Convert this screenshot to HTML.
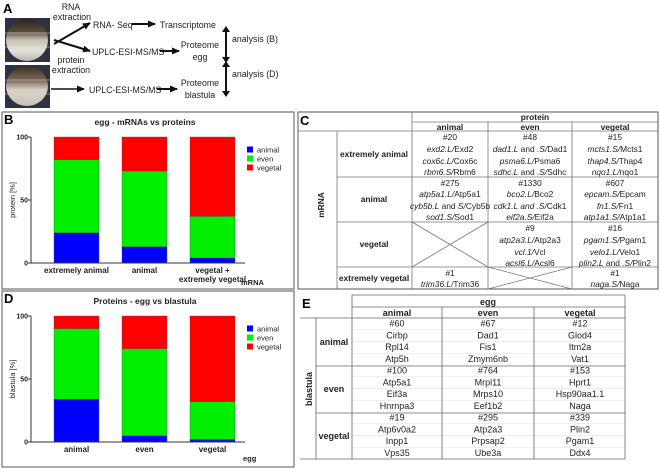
<!DOCTYPE html>
<html><head><meta charset="utf-8"><style>
html,body{margin:0;padding:0;background:#fff;}
svg{display:block;font-family:"Liberation Sans",Arial,sans-serif;}
.b{font-weight:bold}
.t{fill:#222}
.i{font-style:italic}
</style></head><body>
<svg id="fig" width="660" height="470" viewBox="0 0 660 470" xmlns="http://www.w3.org/2000/svg">
<defs>
<linearGradient id="eggG" x1="0" y1="0" x2="0" y2="1"><stop offset="0" stop-color="#2a241e"/><stop offset="0.3" stop-color="#5a4a3a"/><stop offset="0.5" stop-color="#c8c0b4"/><stop offset="0.75" stop-color="#e4e2dc"/><stop offset="1" stop-color="#b9b6ae"/></linearGradient>
<linearGradient id="blaG" x1="0" y1="0" x2="0" y2="1"><stop offset="0" stop-color="#3c2e24"/><stop offset="0.35" stop-color="#7a6656"/><stop offset="0.6" stop-color="#d8d2c6"/><stop offset="1" stop-color="#c9c4ba"/></linearGradient>
<marker id="ah" markerUnits="userSpaceOnUse" markerWidth="8" markerHeight="8" refX="7" refY="4" orient="auto"><path d="M0,0.5 L8,4 L0,7.5 z" fill="#111"/></marker>
</defs>

<!-- Panel A -->
<g font-size="8.8" fill="#222">
<text x="3" y="13" class="b" font-size="13" fill="#000">A</text>
<rect x="5" y="18" width="45" height="44" fill="#2c3444"/>
<ellipse cx="27" cy="40" rx="21" ry="21" fill="url(#eggG)"/>
<line x1="5" y1="33" x2="50" y2="33" stroke="#ddd" stroke-width="0.6"/><line x1="5" y1="47" x2="50" y2="47" stroke="#ddd" stroke-width="0.6"/>
<rect x="5" y="65" width="45" height="43" fill="#2c3444"/>
<ellipse cx="27" cy="86" rx="21" ry="20" fill="url(#blaG)"/>
<line x1="5" y1="80" x2="50" y2="80" stroke="#ddd" stroke-width="0.6"/><line x1="5" y1="94" x2="50" y2="94" stroke="#ddd" stroke-width="0.6"/>
<text x="71" y="10" text-anchor="middle">RNA</text>
<text x="72" y="20" text-anchor="middle">extraction</text>
<text x="71" y="63" text-anchor="middle">protein</text>
<text x="71" y="73" text-anchor="middle">extraction</text>
<line x1="54" y1="44" x2="90" y2="23" stroke="#111" stroke-width="2" marker-end="url(#ah)"/>
<line x1="54" y1="40" x2="90" y2="51" stroke="#111" stroke-width="2" marker-end="url(#ah)"/>
<text x="93" y="28">RNA- Seq</text>
<line x1="132" y1="24" x2="155" y2="24" stroke="#111" stroke-width="2" marker-end="url(#ah)"/>
<text x="160" y="28">Transcriptome</text>
<text x="92" y="55">UPLC-ESI-MS/MS</text>
<line x1="160" y1="51" x2="179" y2="51" stroke="#111" stroke-width="2" marker-end="url(#ah)"/>
<text x="200" y="48" text-anchor="middle">Proteome</text>
<text x="200" y="60" text-anchor="middle">egg</text>
<line x1="51" y1="89" x2="84" y2="89" stroke="#111" stroke-width="1.5" marker-end="url(#ah)"/>
<text x="89" y="93">UPLC-ESI-MS/MS</text>
<line x1="157" y1="89" x2="177" y2="89" stroke="#111" stroke-width="2" marker-end="url(#ah)"/>
<text x="200" y="86" text-anchor="middle">Proteome</text>
<text x="200" y="98" text-anchor="middle">blastula</text>
<line x1="226" y1="31" x2="226" y2="58" stroke="#111" stroke-width="2"/>
<path d="M222,32 L226,26 L230,32 z M222,57 L226,63 L230,57 z" fill="#111"/>
<text x="232" y="42">analysis (B)</text>
<line x1="226" y1="66" x2="226" y2="92" stroke="#111" stroke-width="2"/>
<path d="M222,67 L226,61 L230,67 z M222,91 L226,97 L230,91 z" fill="#111"/>
<text x="232" y="77">analysis (D)</text>
</g>

<!-- Panel boxes -->
<rect x="2" y="112" width="292" height="177" fill="none" stroke="#555" stroke-width="1"/>
<rect x="2" y="291" width="292" height="176" fill="none" stroke="#555" stroke-width="1"/>
<rect x="298" y="112" width="360" height="177" fill="none" stroke="#555" stroke-width="1"/>

<g id="chartB"></g>
<g id="chartD"></g>

<!-- Panel C table -->
<g class="t" font-size="8.4" fill="#222">
<text x="300" y="125" class="b" font-size="13" fill="#000">C</text>
<g stroke="#777" stroke-width="0.8">
<line x1="412" y1="122" x2="658" y2="122"/>
<line x1="298" y1="131" x2="658" y2="131"/>
<line x1="337" y1="177" x2="658" y2="177"/>
<line x1="337" y1="222" x2="658" y2="222"/>
<line x1="337" y1="267" x2="658" y2="267"/>
<line x1="337" y1="131" x2="337" y2="289"/>
<line x1="412" y1="112" x2="412" y2="289"/>
<line x1="488" y1="122" x2="488" y2="289"/>
<line x1="572" y1="122" x2="572" y2="289"/>
<line x1="412" y1="222" x2="488" y2="267"/><line x1="412" y1="267" x2="488" y2="222"/>
<line x1="488" y1="267" x2="572" y2="289"/><line x1="488" y1="289" x2="572" y2="267"/>
</g>
<g text-anchor="middle" font-size="8.4">
<text x="535" y="120" class="b">protein</text>
<text x="450" y="130" class="b">animal</text><text x="530" y="130" class="b">even</text><text x="615" y="130" class="b">vegetal</text>
<text transform="translate(324,205) rotate(-90)" class="b">mRNA</text>
<text x="374" y="157" class="b">extremely animal</text>
<text x="374" y="202" class="b">animal</text>
<text x="374" y="247" class="b">vegetal</text>
<text x="374" y="281" class="b">extremely vegetal</text>
<text x="450" y="140">#20</text>
<text x="450" y="152"><tspan class="i">exd2.L/</tspan>Exd2</text>
<text x="450" y="164"><tspan class="i">cox6c.L/</tspan>Cox6c</text>
<text x="450" y="175"><tspan class="i">rbm6.S/</tspan>Rbm6</text>
<text x="530" y="140">#48</text>
<text x="530" y="152"><tspan class="i">dad1.L</tspan> and <tspan class="i">.S/</tspan>Dad1</text>
<text x="530" y="164"><tspan class="i">psma6.L/</tspan>Psma6</text>
<text x="530" y="175"><tspan class="i">sdhc.L</tspan> and <tspan class="i">.S/</tspan>Sdhc</text>
<text x="615" y="140">#15</text>
<text x="615" y="152"><tspan class="i">mcts1.S/</tspan>Mcts1</text>
<text x="615" y="164"><tspan class="i">thap4.S/</tspan>Thap4</text>
<text x="615" y="175"><tspan class="i">nqo1.L/</tspan>nqo1</text>
<text x="450" y="186">#275</text>
<text x="450" y="197"><tspan class="i">atp5a1.L/</tspan>Atp5a1</text>
<text x="450" y="209"><tspan class="i">cyb5b.L</tspan> and <tspan class="i">S/</tspan>Cyb5b</text>
<text x="450" y="220"><tspan class="i">sod1.S/</tspan>Sod1</text>
<text x="530" y="186">#1330</text>
<text x="530" y="197"><tspan class="i">bco2.L/</tspan>Bco2</text>
<text x="530" y="209"><tspan class="i">cdk1.L and .S/</tspan>Cdk1</text>
<text x="530" y="220"><tspan class="i">eif2a.S/</tspan>Eif2a</text>
<text x="615" y="186">#607</text>
<text x="615" y="197"><tspan class="i">epcam.S/</tspan>Epcam</text>
<text x="615" y="209"><tspan class="i">fn1.S/</tspan>Fn1</text>
<text x="615" y="220"><tspan class="i">atp1a1.S/</tspan>Atp1a1</text>
<text x="530" y="231">#9</text>
<text x="530" y="243"><tspan class="i">atp2a3.L/</tspan>Atp2a3</text>
<text x="530" y="255"><tspan class="i">vcl.1/</tspan>Vcl</text>
<text x="530" y="266"><tspan class="i">acsl6.L/</tspan>Acsl6</text>
<text x="615" y="231">#16</text>
<text x="615" y="243"><tspan class="i">pgam1.S/</tspan>Pgam1</text>
<text x="615" y="255"><tspan class="i">velo1.L/</tspan>Velo1</text>
<text x="615" y="266"><tspan class="i">plin2.L</tspan> and <tspan class="i">.S/</tspan>Plin2</text>
<text x="450" y="276">#1</text>
<text x="450" y="287"><tspan class="i">trim36.L/</tspan>Trim36</text>
<text x="615" y="276">#1</text>
<text x="615" y="287"><tspan class="i">naga.S/</tspan>Naga</text>
</g>
</g>

<!-- Panel E table -->
<g class="t" font-size="9" fill="#222">
<text x="302" y="308" class="b" font-size="13" fill="#000">E</text>
<g stroke="#ddd" stroke-width="0.6" id="eFaint"></g>
<g stroke="#666" stroke-width="0.8">
<line x1="352" y1="295" x2="625" y2="295"/>
<line x1="352" y1="307" x2="625" y2="307"/>
<line x1="300" y1="318" x2="625" y2="318"/>
<line x1="316" y1="366" x2="625" y2="366"/>
<line x1="316" y1="413" x2="625" y2="413"/>
<line x1="300" y1="459" x2="625" y2="459"/>
<line x1="316" y1="318" x2="316" y2="459"/>
<line x1="352" y1="295" x2="352" y2="459"/>
<line x1="442" y1="307" x2="442" y2="459"/>
<line x1="534" y1="307" x2="534" y2="459"/>
<line x1="625" y1="295" x2="625" y2="459"/>
</g>
<g text-anchor="middle" font-size="9" id="eText">
<text x="488" y="305" class="b">egg</text>
<text x="397" y="316" class="b">animal</text><text x="488" y="316" class="b">even</text><text x="580" y="316" class="b">vegetal</text>
<text transform="translate(312,389) rotate(-90)" class="b">blastula</text>
<text x="334" y="345" class="b">animal</text>
<text x="334" y="392" class="b">even</text>
<text x="334" y="439" class="b">vegetal</text>
</g>
</g>
</svg>
<script>
// Chart data
var catsB = ["extremely animal", "animal", "vegetal +|extremely vegetal"];
var animalB = [24, 13, 4];
var evenB = [58, 60, 33];
var vegetalB = [18, 27, 63];
var catsD = ["animal", "even", "vegetal"];
var animalD = [34, 5, 2];
var evenD = [56, 69, 30];
var vegetalD = [10, 26, 68];
var yTicks = [0, 50, 100];
var legendLabels = ["animal", "even", "vegetal"];

var NS = "http://www.w3.org/2000/svg";
var colors = ["#0000ff", "#00ee00", "#ff0000"];
function mk(tag, attrs, parent) {
  var e = document.createElementNS(NS, tag);
  for (var k in attrs) e.setAttribute(k, attrs[k]);
  parent.appendChild(e);
  return e;
}
function drawChart(gid, top, title, yLabel, cats, series, xTitle, xTitleX) {
  var g = document.getElementById(gid);
  var x0 = 31, y100 = top + 25, y0 = top + 151;
  function yS(v) { return y0 - (v / 100) * (y0 - y100); }
  function xS(i) { return 54 + i * 68; }
  var bw = 45;
  var t = mk("text", {x: 145, y: top + 13, "text-anchor": "middle", "font-size": "8.5", "font-weight": "bold", fill: "#222"}, g);
  t.textContent = title;
  
  
  var yl = mk("text", {transform: "translate(15," + ((y0 + y100) / 2) + ") rotate(-90)", "text-anchor": "middle", "font-size": "7.5", fill: "#222"}, g);
  yl.textContent = yLabel;
  
  
  for (var i = 0; i < cats.length; i++) {
    var base = 0;
    for (var s = 0; s < series.length; s++) {
      var v = series[s][i];
      var r = mk("rect", {x: xS(i), y: yS(base + v), width: bw, height: yS(base) - yS(base + v), fill: colors[s], stroke: "#555", "stroke-width": "0.4"}, g);
      
      
      base += v;
    }
    var parts = cats[i].split("|");
    for (var p = 0; p < parts.length; p++) {
      var ct = mk("text", {x: xS(i) + bw / 2, y: y0 + 10 + p * 9, "text-anchor": "middle", "font-size": "8", "font-weight": "bold", fill: "#222"}, g);
      ct.textContent = parts[p];
      
      
    }
  }
  var ax = mk("line", {x1: x0, y1: y100, x2: x0, y2: y0, stroke: "#333", "stroke-width": "1"}, g);
  
  
  var xa = mk("line", {x1: x0, y1: y0, x2: 245, y2: y0, stroke: "#333", "stroke-width": "1"}, g);
  
  
  for (var k = 0; k < yTicks.length; k++) {
    var yy = yS(yTicks[k]);
    mk("line", {x1: x0 - 3, y1: yy, x2: x0, y2: yy, stroke: "#333"}, g);
    var tl = mk("text", {x: x0 - 3, y: yy + 2.5, "text-anchor": "end", "font-size": "7", "font-weight": "bold", fill: "#222"}, g);
    tl.textContent = yTicks[k];
    
    
  }
  for (var s2 = 0; s2 < legendLabels.length; s2++) {
    var ly = top + 38 + s2 * 9;
    var lr = mk("rect", {x: 247, y: ly - 3.5, width: 6, height: 6, fill: colors[s2]}, g);
    
    
    var lt = mk("text", {x: 257, y: ly + 2.5, "font-size": "7.5", fill: "#222"}, g);
    lt.textContent = legendLabels[s2];
    
    
  }
  var xt = mk("text", {x: xTitleX, y: top + (gid === "chartB" ? 173 : 170), "font-size": "7.5", "font-weight": "bold", fill: "#222"}, g);
  xt.textContent = xTitle;
  
  
  var pl = mk("text", {x: 4, y: top + 12, "font-size": "13", "font-weight": "bold", fill: "#000"}, g);
  pl.textContent = gid === "chartB" ? "B" : "D";
  
  
}
drawChart("chartB", 112, "egg - mRNAs vs proteins", "protein [%]", catsB, [animalB, evenB, vegetalB], "mRNA", 241);
drawChart("chartD", 291, "Proteins - egg vs blastula", "blastula [%]", catsD, [animalD, evenD, vegetalD], "egg", 243);

// Table E cells
var eCells = [
 ["#60","Cirbp","Rpl14","Atp5h","#100","Atp5a1","Eif3a","Hnrnpa3","#19","Atp6v0a2","Inpp1","Vps35"],
 ["#67","Dad1","Fis1","Zmym6nb","#764","Mrpl11","Mrps10","Eef1b2","#295","Atp2a3","Prpsap2","Ube3a"],
 ["#12","Glod4","Itm2a","Vat1","#153","Hprt1","Hsp90aa1.1","Naga","#339","Plin2","Pgam1","Ddx4"]
];
var eX = [397, 488, 580];
var eg = document.getElementById("eText");
var ef = document.getElementById("eFaint");
for (var c = 0; c < 3; c++) {
  for (var r = 0; r < 12; r++) {
    var tx = mk("text", {x: eX[c], y: 326.5 + r * 11.75}, eg);
    tx.textContent = eCells[c][r];
    
    
  }
}
for (var r2 = 1; r2 < 12; r2++) {
  if (r2 % 4 === 0) continue;
  var yy2 = 318 + r2 * 11.75;
  mk("line", {x1: 352, y1: yy2, x2: 625, y2: yy2}, ef);
}
</script>
</body></html>
